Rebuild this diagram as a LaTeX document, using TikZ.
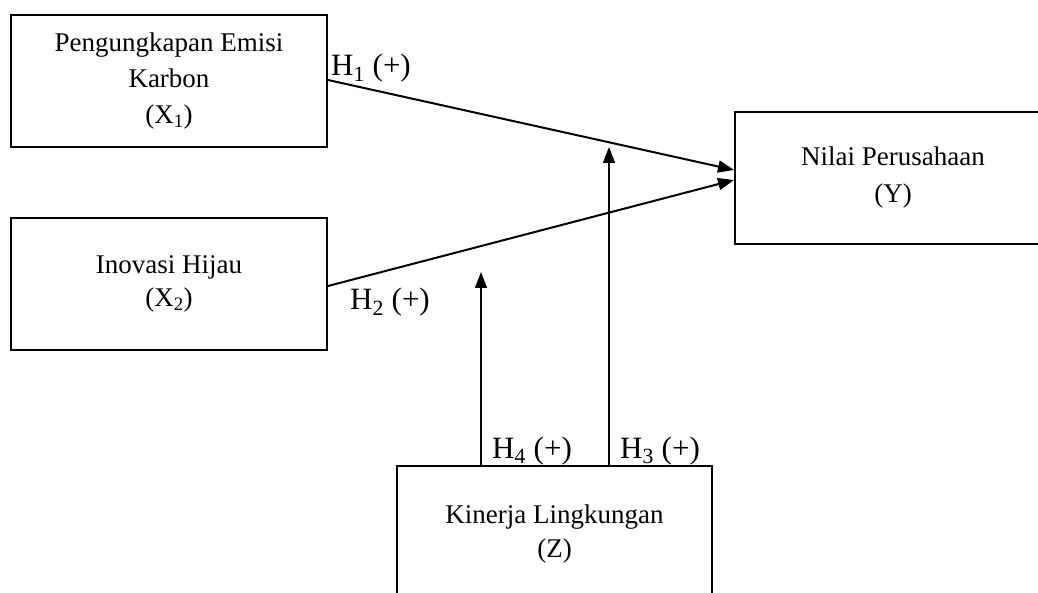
\documentclass[tikz,border=0pt]{standalone}
\usepackage{fontspec}
\setmainfont{Liberation Serif}
\usetikzlibrary{arrows.meta}
\tikzset{
  varbox/.style={draw, line width=2pt, minimum width=316pt, minimum height=132pt,
    align=center, inner sep=0pt, font=\fontsize{27}{36}\selectfont},
  arr/.style={line width=2pt, -{Triangle[length=16pt,width=12pt]}},
  varr/.style={line width=1.4pt, -{Triangle[length=16pt,width=12pt]}},
  hlab/.style={anchor=base west, inner sep=0pt, font=\fontsize{31}{31}\selectfont}
}
\begin{document}
\begin{tikzpicture}[x=1pt,y=1pt]
\useasboundingbox (0,0) rectangle (1038,-593);
\clip (0,0) rectangle (1038,-593);
\node[varbox] (x1) at (169,-81) {Pengungkapan Emisi\\Karbon\\(X\textsubscript{1})};
\node[varbox, font=\fontsize{27}{33}\selectfont] (x2) at (169,-284) {Inovasi Hijau\\(X\textsubscript{2})};
\node[varbox, font=\fontsize{27}{37}\selectfont] (y) at (893,-178) {Nilai Perusahaan\\(Y)};
\node[varbox, minimum width=315pt, minimum height=136pt, font=\fontsize{27}{34}\selectfont] (z) at (554.5,-534) {Kinerja Lingkungan\\(Z)};
\coordinate (t4) at (481,-272);
\coordinate (t3) at (609,-147);
\draw[arr] ([yshift=1pt]x1.east) -- ([yshift=8pt]y.west);
\draw[arr] ([yshift=-2pt]x2.east) -- ([yshift=-2pt]y.west);
\draw[varr] (z.north -| t4) -- (t4);
\draw[varr] (z.north -| t3) -- (t3);
\node[hlab] (h1) at (331,-76) {H\textsubscript{1} (+)};
\node[hlab] (h2) at (350,-310) {H\textsubscript{2} (+)};
\node[hlab] (h4) at (492,-458) {H\textsubscript{4} (+)};
\node[hlab] (h3) at (620,-458) {H\textsubscript{3} (+)};
\end{tikzpicture}
\end{document}
